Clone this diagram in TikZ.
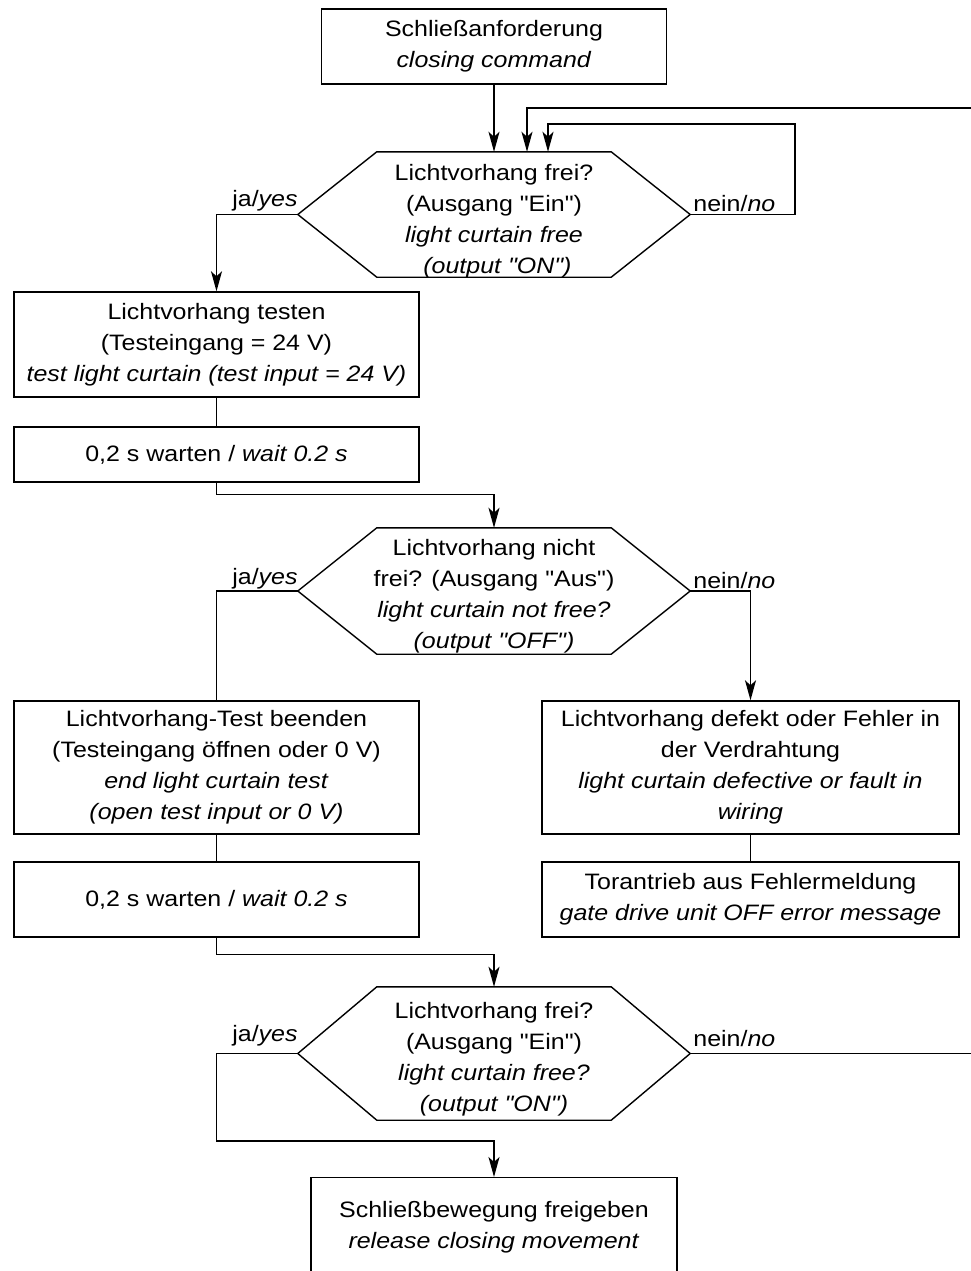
\documentclass[tikz,border=0pt]{standalone}
\usepackage{fontspec}
\setmainfont{Liberation Sans}[FakeStretch=1.12, Ligatures=TeXOff]
\usetikzlibrary{arrows.meta}
\newcommand\hexdraw[2]{\draw[line] ([xshift=#2]#1.north west) -- ([xshift=-#2]#1.north east) -- (#1.east) -- ([xshift=-#2]#1.south east) -- ([xshift=#2]#1.south west) -- (#1.west) -- cycle;}
\newcommand\qq{\char34\relax}
\begin{document}
\begin{tikzpicture}[x=1pt,y=-1pt,
  line/.style={line width=1.4pt, draw=black},
  arr/.style={line, -{Stealth[length=20pt,width=11pt,inset=5pt]}},
  txt/.style={font=\fontsize{22.3}{31}\selectfont},
  box/.style={line, rectangle, inner sep=0pt, align=center, txt},
  hexn/.style={rectangle, inner sep=0pt, minimum width=392pt},
  hext/.style={inner sep=0pt, align=center, txt},
  lab/.style={inner sep=0pt, font=\fontsize{22.3}{27}\selectfont}]
\useasboundingbox[fill=white] (0,0) rectangle (971,1271);

% nodes
\node[box, minimum width=345pt, minimum height=75pt] (b1) at (494,46.5) {Schließanforderung\\\textit{closing command}};
\node[hexn, minimum height=125pt] (h1) at (494,214.5) {};
\hexdraw{h1}{79pt}
\node[hext] (h1t) at (494,221) {Lichtvorhang frei?\\(Ausgang \qq Ein\qq)\\\textit{light curtain free}\\\textit{\ (output \qq ON\qq)}};
\node[box, minimum width=405pt, minimum height=105pt] (b2) at (216.5,344.5) {Lichtvorhang testen\\(Testeingang = 24 V)\\\textit{test light curtain (test input = 24 V)}};
\node[box, minimum width=405pt, minimum height=55pt] (b3) at (216.5,454.5) {0,2 s warten / \textit{wait 0.2 s}};
\node[hexn, minimum height=126pt] (h2) at (494,591) {};
\hexdraw{h2}{79pt}
\node[hext] (h2t) at (494,596) {Lichtvorhang nicht\\frei? (Ausgang \qq Aus\qq)\\\textit{light curtain not free?}\\\textit{(output \qq OFF\qq)}};
\node[box, minimum width=405pt, minimum height=133pt] (b4) at (216.5,767.5) {Lichtvorhang-Test beenden\\(Testeingang öffnen oder 0 V)\\\textit{end light curtain test}\\\textit{(open test input or 0 V)}};
\node[box, minimum width=405pt, minimum height=75pt] (b5) at (216.5,899.5) {0,2 s warten / \textit{wait 0.2 s}};
\node[box, minimum width=417pt, minimum height=133pt] (b6) at (750.5,767.5) {Lichtvorhang defekt oder Fehler in\\der Verdrahtung\\\textit{light curtain defective or fault in}\\\textit{wiring}};
\node[box, minimum width=417pt, minimum height=75pt] (b7) at (750.5,899.5) {Torantrieb aus Fehlermeldung\\\textit{gate drive unit OFF error message}};
\node[hexn, minimum height=133pt] (h3) at (494,1053.5) {};
\hexdraw{h3}{79pt}
\node[hext] (h3t) at (494,1059) {Lichtvorhang frei?\\(Ausgang \qq Ein\qq)\\\textit{light curtain free?}\\\textit{(output \qq ON\qq)}};
\node[box, minimum width=366pt, minimum height=125pt, anchor=north] (b8) at (494,1177) {};
\node[hext] (b8t) at (494,1227) {Schließbewegung freigeben\\\textit{release closing movement}};

% labels
\node[lab, anchor=south east] (l1y) at ([yshift=3pt]h1.west) {ja/\textit{yes}};
\node[lab, anchor=south west] (l1n) at ([xshift=3pt,yshift=3pt]h1.east) {nein/\textit{no}};
\node[lab, anchor=south east] (l2y) at ([yshift=2pt]h2.west) {ja/\textit{yes}};
\node[lab, anchor=south west] (l2n) at ([xshift=3pt,yshift=2pt]h2.east) {nein/\textit{no}};
\node[lab, anchor=south east] (l3y) at ([yshift=7pt]h3.west) {ja/\textit{yes}};
\node[lab, anchor=south west] (l3n) at ([xshift=3pt,yshift=7pt]h3.east) {nein/\textit{no}};

% helper coordinates
\coordinate (r1) at (990,1053.5);
\coordinate (r2) at (990,108);
\coordinate (t1) at (527,108);
\coordinate (t2) at (548,124);
\coordinate (n1) at (795,124);

% connectors
\draw[arr] (b1) -- (h1);
\draw[arr] (h1.east) -- (n1 |- h1.east) -- (n1) -- (t2) -- (t2 |- h1.north);
\draw[arr] (h3.east) -- (r1) -- (r2) -- (t1) -- (t1 |- h1.north);
\draw[arr] (h1.west) -- (b2.north |- h1.west) -- (b2.north);
\draw[line] (b2) -- (b3);
\draw[arr] (b3.south) -- ++(0,12) -| (h2.north);
\draw[line] (h2.west) -| (b4.north);
\draw[arr] (h2.east) -| (b6.north);
\draw[line] (b4) -- (b5);
\draw[line] (b6) -- (b7);
\draw[arr] (b5.south) -- ++(0,17) -| (h3.north);
\draw[arr] (h3.west) -- (b5.south |- h3.west) -- ++(0,87.5) -| (b8.north);
\end{tikzpicture}
\end{document}
